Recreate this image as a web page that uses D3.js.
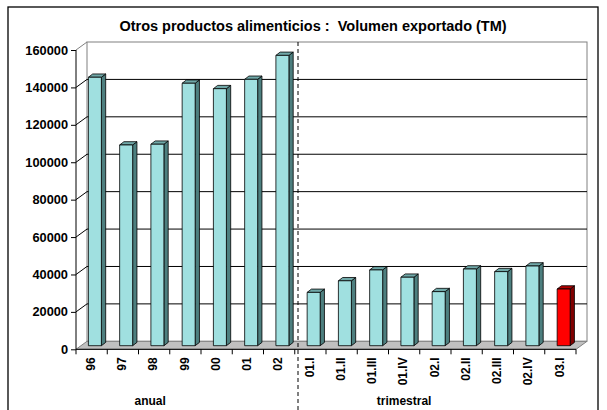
<!DOCTYPE html>
<html>
<head>
<meta charset="utf-8">
<script src="https://cdn.jsdelivr.net/npm/d3@7"></script>
<style>
  html, body { margin: 0; padding: 0; background: #fff; }
  svg { display: block; font-family: "Liberation Sans", Arial, sans-serif; font-weight: bold; }
  .title { white-space: pre; }
</style>
</head>
<body>
<svg id="chart" width="607" height="410"></svg>
<script>
// Export volume of other food products (metric tonnes)
const categories = ["96", "97", "98", "99", "00", "01", "02",
                    "01.I", "01.II", "01.III", "01.IV", "02.I", "02.II", "02.III", "02.IV", "03.I"];
const volumes = [143500, 107300, 107700, 140300, 137400, 142400, 155200,
                 28500, 34700, 40500, 36600, 28900, 41000, 39600, 42600, 30300];
const highlighted = ["03.I"];
const yTicks = [0, 20000, 40000, 60000, 80000, 100000, 120000, 140000, 160000];
const groups = [
  { label: "anual", anchor: "98", shift: -4 },
  { label: "trimestral", anchor: "01.IV", shift: 0 }
];
const title = "Otros productos alimenticios :  Volumen exportado (TM)";

(function () {
const svg = d3.select("#chart");
const W = 607, H = 410;

// plot geometry (front plane) and 3-D depth offsets
const plotL = 76, plotR = 576, plotT = 50, plotB = 349.3;
const depthX = 11, depthY = -8;          // back wall offset
const barDX = 4.3, barDY = -3.3;         // bar thickness
const barShiftY = -3.6;                  // bars stand mid-depth on the floor

const x = d3.scaleBand().domain(categories).range([plotL, plotR]).padding(0);
const y = d3.scaleLinear().domain([0, 160000]).range([plotB, plotT]);
const bw = x.bandwidth();
const pts = a => a.map(p => p.join(",")).join(" ");

svg.append("rect").attr("width", W).attr("height", H).attr("fill", "#fff");

// outer frame
svg.append("rect")
  .attr("x", 8).attr("y", 7).attr("width", 590).attr("height", 420)
  .attr("fill", "none").attr("stroke", "#000").attr("stroke-width", 1.3);

// title
svg.append("text")
  .attr("class", "title")
  .attr("x", 313).attr("y", 30.5)
  .attr("text-anchor", "middle")
  .attr("font-size", 14.5)
  .attr("fill", "#000")
  .text(title);

// back wall
svg.append("rect")
  .attr("x", plotL + depthX).attr("y", y(160000) + depthY)
  .attr("width", plotR - plotL).attr("height", plotB - plotT)
  .attr("fill", "#fff").attr("stroke", "#808080").attr("stroke-width", 1);

// gridlines on the wall and the connectors from the axis ticks
yTicks.filter(v => v > 0).forEach(v => {
  const c = v === 160000 ? "#808080" : "#000";
  if (v < 160000) {
    svg.append("line")
      .attr("x1", plotL + depthX).attr("x2", plotR + depthX)
      .attr("y1", y(v) + depthY).attr("y2", y(v) + depthY)
      .attr("stroke", "#000").attr("stroke-width", 1);
  }
  svg.append("line")
    .attr("x1", plotL).attr("y1", y(v))
    .attr("x2", plotL + depthX).attr("y2", y(v) + depthY)
    .attr("stroke", c).attr("stroke-width", 1);
});

// floor
svg.append("polygon")
  .attr("points", pts([
    [plotL, plotB], [plotR, plotB],
    [plotR + depthX, plotB + depthY], [plotL + depthX, plotB + depthY]
  ]))
  .attr("fill", "#c0c0c0").attr("stroke", "#808080").attr("stroke-width", 1);

// bars
const bars = svg.append("g");
categories.forEach((c, i) => {
  const v = volumes[i];
  const hi = highlighted.includes(c);
  const front = hi ? "#ff0000" : "#a0e0e0";
  const side = hi ? "#800000" : "#4d7f7f";
  const topC = hi ? "#b00000" : "#70a8a8";
  const x0 = x(c) + 12.4, w = 13;
  const yT = y(v) + barShiftY, yB = y(0) + barShiftY;
  const g = bars.append("g").attr("stroke", "#000").attr("stroke-width", 0.8).attr("stroke-linejoin", "round");
  g.append("polygon")
    .attr("points", pts([[x0 + w, yT], [x0 + w + barDX, yT + barDY], [x0 + w + barDX, yB + barDY], [x0 + w, yB]]))
    .attr("fill", side);
  g.append("polygon")
    .attr("points", pts([[x0, yT], [x0 + barDX, yT + barDY], [x0 + w + barDX, yT + barDY], [x0 + w, yT]]))
    .attr("fill", topC);
  g.append("rect")
    .attr("x", x0).attr("y", yT).attr("width", w).attr("height", yB - yT)
    .attr("fill", front);
});

// y axis
const yAxis = svg.append("g")
  .attr("transform", `translate(${plotL},0)`)
  .call(d3.axisLeft(y).tickValues(yTicks).tickFormat(d3.format("d")).tickSize(5).tickPadding(3));
yAxis.select(".domain").attr("stroke", "#000").attr("d", `M0,${plotT}V${plotB}`);
yAxis.selectAll(".tick line").attr("stroke", "#000");
yAxis.selectAll(".tick text")
  .attr("font-size", 12.8).attr("font-weight", "bold")
  .attr("font-family", "Liberation Sans, Arial, sans-serif").attr("fill", "#000");

// x axis
const xAxis = svg.append("g")
  .attr("transform", `translate(0,${plotB})`)
  .call(d3.axisBottom(x).tickSize(0).tickPadding(0));
xAxis.select(".domain").attr("stroke", "#000").attr("d", `M${plotL},0H${plotR}`);
xAxis.selectAll(".tick text")
  .attr("font-size", 12).attr("font-weight", "bold")
  .attr("font-family", "Liberation Sans, Arial, sans-serif").attr("fill", "#000")
  .attr("text-anchor", "end")
  .attr("transform", "rotate(-90)")
  .attr("x", -8).attr("y", -1).attr("dy", "0.35em");
// ticks between categories
categories.concat([null]).forEach(c => {
  const xp = c === null ? plotR : x(c);
  xAxis.append("line")
    .attr("x1", xp).attr("x2", xp).attr("y1", 0).attr("y2", 5)
    .attr("stroke", "#000");
});

// separator between annual and quarterly series
svg.append("line")
  .attr("x1", 298).attr("x2", 298)
  .attr("y1", y(160000) + depthY).attr("y2", H)
  .attr("stroke", "#000").attr("stroke-width", 1)
  .attr("stroke-dasharray", "4,3");

// group labels
groups.forEach(gr => {
  svg.append("text")
    .attr("x", x(gr.anchor) + bw / 2 + gr.shift).attr("y", 405)
    .attr("text-anchor", "middle")
    .attr("font-size", 12)
    .attr("fill", "#000")
    .text(gr.label);
});
})();
</script>
</body>
</html>
